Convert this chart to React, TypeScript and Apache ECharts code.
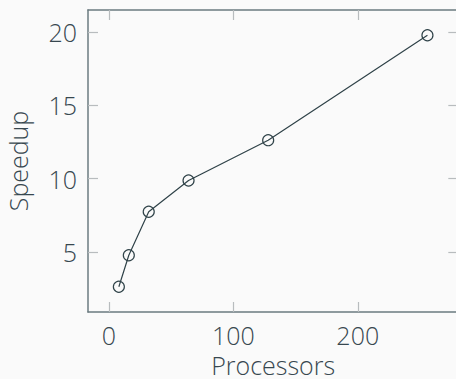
import React, { useEffect, useRef } from "react";
import * as echarts from "echarts";

const processors = [8, 16, 32, 64, 128, 256];
const speedup = [2.62, 4.77, 7.74, 9.87, 12.62, 19.78];
const xTicks = [0, 100, 200];
const yTicks = [5, 10, 15, 20];
const xName = "Processors";
const yName = "Speedup";

const TEXT = "#37474f";
const SPINE = "#6b7b80";
const TICK = "#b8bcbe";
const LINE = "#2f4248";
const FONT = "Open Sans";
const WEIGHT = 300;

export default function App() {
  const ref = useRef<HTMLDivElement>(null);
  useEffect(() => {
    if (!ref.current) return;
    const chart = echarts.init(ref.current, null, { renderer: "svg" });
    const tickCommon = { show: true, inside: true, length: 10, lineStyle: { color: TICK, width: 1.2 } };
    const textStyle = { color: TEXT, fontSize: 25, fontFamily: FONT, fontWeight: WEIGHT };
    chart.setOption({
      animation: false,
      backgroundColor: "#fafafa",
      grid: {
        left: 88,
        top: 10,
        width: 370.3,
        height: 302,
        containLabel: false,
        outerBoundsMode: "none",
      },
      xAxis: [
        {
          type: "value",
          position: "bottom",
          min: -16.8,
          max: 280.8,
          name: xName,
          nameLocation: "middle",
          nameGap: 40,
          nameTextStyle: textStyle,
          axisLine: { show: true, onZero: false, lineStyle: { color: SPINE, width: 1.5 } },
          axisTick: { ...tickCommon, customValues: xTicks },
          axisLabel: { ...textStyle, margin: 10, customValues: xTicks },
          splitLine: { show: false },
        },
        {
          type: "value",
          position: "top",
          min: -16.8,
          max: 280.8,
          axisLine: { show: true, onZero: false, lineStyle: { color: SPINE, width: 1.5 } },
          axisTick: { ...tickCommon, customValues: xTicks },
          axisLabel: { show: false },
          splitLine: { show: false },
        },
      ],
      yAxis: [
        {
          type: "value",
          position: "left",
          min: 0.9,
          max: 21.5,
          name: yName,
          nameLocation: "middle",
          nameGap: 58,
          nameTextStyle: textStyle,
          axisLine: { show: true, onZero: false, lineStyle: { color: SPINE, width: 1.5 } },
          axisTick: { ...tickCommon, customValues: yTicks },
          axisLabel: { ...textStyle, margin: 11, customValues: yTicks },
          splitLine: { show: false },
        },
        {
          type: "value",
          position: "right",
          min: 0.9,
          max: 21.5,
          axisLine: { show: true, onZero: false, lineStyle: { color: SPINE, width: 1.5 } },
          axisTick: { ...tickCommon, customValues: yTicks },
          axisLabel: { show: false },
          splitLine: { show: false },
        },
      ],
      series: [
        {
          type: "line",
          xAxisIndex: 0,
          yAxisIndex: 0,
          data: processors.map((p, i) => [p, speedup[i]]),
          symbol: "circle",
          symbolSize: 11,
          showAllSymbol: true,
          lineStyle: { color: LINE, width: 1.2 },
          itemStyle: { color: "rgba(0,0,0,0)", borderColor: LINE, borderWidth: 1.2 },
        },
      ],
    });
    return () => chart.dispose();
  }, []);
  return (
    <div
      ref={ref}
      style={{ position: "fixed", left: 0, top: 0, width: 456, height: 379, background: "#fafafa" }}
    />
  );
}
